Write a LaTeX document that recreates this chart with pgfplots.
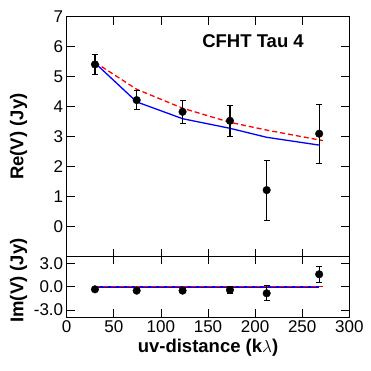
\documentclass[border=0pt]{standalone}
\usepackage{fontspec}
\setmainfont{Liberation Sans}
\usepackage{pgfplots}
\pgfplotsset{compat=1.18}

% Re(V): x, y, error
\pgfplotstableread{
x y ey
30.0 5.41 0.32
74.3 4.22 0.31
123 3.83 0.38
173.3 3.53 0.51
212.3 1.22 1.00
268 3.10 0.98
}\redata
% Im(V)
\pgfplotstableread{
x y ey
30.0 -0.34 0.25
74.3 -0.51 0.25
123 -0.51 0.25
173.3 -0.42 0.40
212.3 -0.85 0.95
268 1.58 1.03
}\imdata

\begin{document}
\begin{tikzpicture}
\path (0pt,0pt) rectangle (371pt,371pt);
\pgfplotsset{
  every axis/.append style={
    scale only axis, width=282.6pt,
    xmin=0, xmax=300, xtick={0,50,...,300},
    tick align=inside, major tick length=8pt,
    tick style={black, line width=0.8pt},
    axis line style={line width=0.9pt},
    tick label style={font=\fontsize{17}{19}\selectfont},
    label style={font=\bfseries\fontsize{18.5}{20}\selectfont},
    /pgf/number format/assume math mode=true,
    clip=false,
  },
  pts/.style={black, only marks, mark=*, mark size=3.8pt,
    error bars/.cd, y dir=both, y explicit,
    error bar style={line width=1.1pt, black},
    error mark options={rotate=90, mark size=3pt, line width=0.8pt, black}},
}
\begin{axis}[at={(66.7pt,114.3pt)}, anchor=south west, height=240pt,
  ymin=-1, ymax=7, ytick={0,...,7}, xticklabels={},
  ylabel={Re(V) (Jy)},
  ylabel style={at={(axis description cs:-0.17,0.5)}, anchor=center},
]
\addplot[red, line width=1.3pt, dash pattern=on 5pt off 3pt] coordinates {
(30,5.48) (74.3,4.58) (123,3.95) (173.3,3.48) (212.3,3.22) (272,2.87)};
\addplot[blue, line width=1.3pt] coordinates {
(30,5.46) (74.3,4.16) (123,3.60) (173.3,3.28) (212.3,2.98) (268,2.72)};
\addplot[pts] table[x=x, y=y, y error=ey] {\redata};
\node[font=\bfseries\fontsize{18.5}{20}\selectfont] at (axis cs:197.8,6.17) {CFHT Tau 4};
\end{axis}
\begin{axis}[at={(66.7pt,54pt)}, anchor=south west, height=60.7pt,
  ymin=-3.88, ymax=3.88, ytick={-3,0,3},
  yticklabel style={/pgf/number format/.cd, fixed, fixed zerofill, precision=1},
  ylabel={Im(V) (Jy)},
  ylabel style={at={(axis description cs:-0.17,0.6)}, anchor=center},
  xlabel={uv-distance (k$\lambda$)},
  xlabel style={at={(axis description cs:0.5,-0.3)}, anchor=north},
]
\addplot[blue, line width=1.3pt] coordinates {(30,-0.05) (268,-0.05)};
\addplot[red, line width=1.3pt, dash pattern=on 5pt off 3pt] coordinates {(30,0.05) (272,0.05)};
\addplot[pts] table[x=x, y=y, y error=ey] {\imdata};
\end{axis}
\end{tikzpicture}
\end{document}
